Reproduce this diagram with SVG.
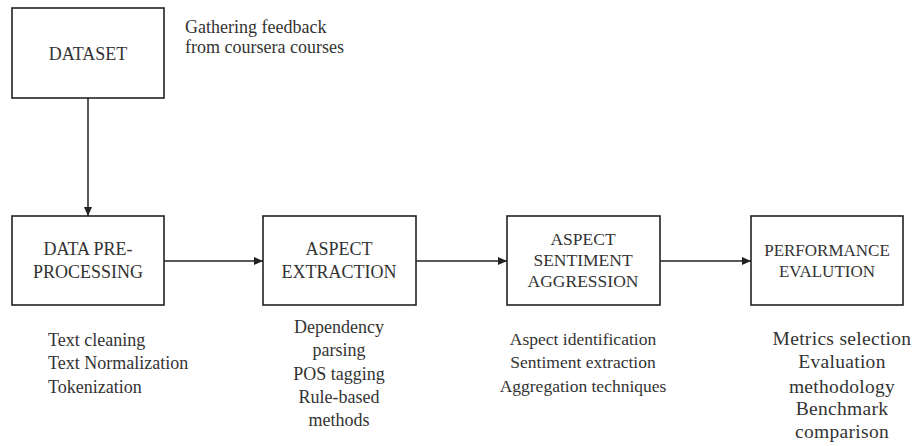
<svg xmlns="http://www.w3.org/2000/svg" width="913" height="446" viewBox="0 0 913 446">
<style>
.box{fill:#fff;stroke:#222;stroke-width:1.6}
text{font-family:'Liberation Serif','Times New Roman',serif;fill:#333}
.t{font-size:18px;text-anchor:middle}
.l{font-size:18px}
.s{font-size:17.5px;text-anchor:middle}
.p{font-size:17px;text-anchor:middle}
.big{font-size:19.5px;text-anchor:middle;letter-spacing:0.3px}
.c{stroke:#222;stroke-width:1.5;fill:none;marker-end:url(#ah)}
</style>
<defs>
<marker id="ah" markerWidth="10" markerHeight="10" refX="9" refY="5" orient="auto" markerUnits="userSpaceOnUse">
<path d="M0,1 L9,5 L0,9 Z" fill="#222"/>
</marker>
</defs>
<rect width="913" height="446" fill="#fff"/>
<g id="connectors">
<path class="c" d="M88,98 L88,216"/>
<path class="c" d="M164,261 L263,261"/>
<path class="c" d="M416,261 L507,261"/>
<path class="c" d="M660,261 L751,261"/>
</g>
<g id="dataset">
<rect class="box" x="12" y="8" width="152" height="90"/>
<text class="t" x="88" y="60">DATASET</text>
<text class="l" x="185" y="33">Gathering feedback</text>
<text class="l" x="185" y="53">from coursera courses</text>
</g>
<g id="preprocessing">
<rect class="box" x="12" y="216" width="152" height="89"/>
<text class="t" x="88" y="255">DATA PRE-</text>
<text class="t" x="88" y="278">PROCESSING</text>
<text class="l" x="48" y="346">Text cleaning</text>
<text class="l" x="48" y="369">Text Normalization</text>
<text class="l" x="48" y="393">Tokenization</text>
</g>
<g id="aspect-extraction">
<rect class="box" x="263" y="216" width="153" height="89"/>
<text class="t" x="339" y="255" font-size="18.5">ASPECT</text>
<text class="t" x="339" y="278" font-size="18.5">EXTRACTION</text>
<text class="t" x="339" y="333">Dependency</text>
<text class="t" x="339" y="356">parsing</text>
<text class="t" x="339" y="380">POS tagging</text>
<text class="t" x="339" y="403">Rule-based</text>
<text class="t" x="339" y="426">methods</text>
</g>
<g id="aspect-sentiment">
<rect class="box" x="507" y="216" width="153" height="89"/>
<text class="s" x="583" y="245">ASPECT</text>
<text class="s" x="583" y="266">SENTIMENT</text>
<text class="s" x="583" y="287">AGGRESSION</text>
<text class="s" x="583" y="345">Aspect identification</text>
<text class="s" x="583" y="368">Sentiment extraction</text>
<text class="s" x="583" y="392">Aggregation techniques</text>
</g>
<g id="performance">
<rect class="box" x="751" y="216" width="152" height="89"/>
<text class="p" x="827" y="256">PERFORMANCE</text>
<text class="p" x="827" y="277">EVALUTION</text>
<text class="big" x="842" y="345">Metrics selection</text>
<text class="big" x="842" y="368">Evaluation</text>
<text class="big" x="842" y="393">methodology</text>
<text class="big" x="842" y="415">Benchmark</text>
<text class="big" x="842" y="438">comparison</text>
</g>
</svg>
